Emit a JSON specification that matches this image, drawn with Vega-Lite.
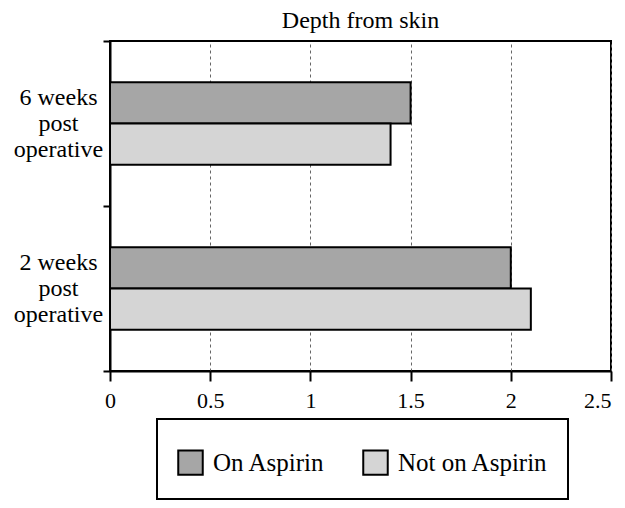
{
  "$schema": "https://vega.github.io/schema/vega-lite/v6.json",
  "autosize": {"type": "none"},
  "width": 501,
  "height": 330,
  "padding": {"left": 110, "top": 41, "right": 14, "bottom": 137},
  "background": "white",
  "title": {
    "text": "Depth from skin",
    "font": "Liberation Serif, Times New Roman, serif",
    "fontSize": 24,
    "fontWeight": "normal",
    "color": "black",
    "anchor": "middle",
    "offset": -4
  },
  "data": {
    "values": [
      {"period": "6 weeks\npost\noperative", "group": "On Aspirin", "depth": 1.5},
      {"period": "6 weeks\npost\noperative", "group": "Not on Aspirin", "depth": 1.4},
      {"period": "2 weeks\npost\noperative", "group": "On Aspirin", "depth": 2.0},
      {"period": "2 weeks\npost\noperative", "group": "Not on Aspirin", "depth": 2.1}
    ]
  },
  "mark": {"type": "bar", "stroke": "black", "strokeWidth": 2},
  "encoding": {
    "y": {
      "field": "period",
      "type": "nominal",
      "sort": ["6 weeks\npost\noperative", "2 weeks\npost\noperative"],
      "scale": {"paddingInner": 0, "paddingOuter": 0},
      "axis": {
        "title": null,
        "labelExpr": "isValid(datum.value) ? split(datum.value, '\\n') : ''",
        "labelFont": "Liberation Serif, Times New Roman, serif",
        "labelFontSize": 24,
        "labelColor": "black",
        "labelAlign": "center",
        "labelBaseline": "middle",
        "labelPadding": 45,
        "labelLineHeight": 26,
        "labelOffset": -26,
        "tickBand": "extent",
        "tickSize": 7,
        "tickWidth": 2,
        "tickColor": "black",
        "domainColor": "black",
        "domainWidth": 2,
        "grid": false
      }
    },
    "yOffset": {
      "field": "group",
      "type": "nominal",
      "sort": ["On Aspirin", "Not on Aspirin"],
      "scale": {"paddingInner": 0, "paddingOuter": 1}
    },
    "x": {
      "field": "depth",
      "type": "quantitative",
      "scale": {"domain": [0, 2.5], "nice": false},
      "axis": {
        "title": null,
        "values": [0, 0.5, 1, 1.5, 2, 2.5],
        "labelExpr": "datum.value",
        "labelFont": "Liberation Serif, Times New Roman, serif",
        "labelFontSize": 22,
        "labelColor": "black",
        "labelAlign": {"expr": "datum.value == 2.5 ? 'right' : 'center'"},
        "labelDx": {"expr": "datum.value == 2.5 ? 3 : 0"},
        "grid": true,
        "gridDash": [3, 3],
        "gridColor": "#666666",
        "gridWidth": 1,
        "tickSize": 10,
        "tickWidth": 2,
        "tickColor": "black",
        "domainColor": "black",
        "domainWidth": 2,
        "labelPadding": 9,
        "labelFlush": false
      }
    },
    "fill": {
      "field": "group",
      "type": "nominal",
      "sort": ["On Aspirin", "Not on Aspirin"],
      "scale": {"domain": ["On Aspirin", "Not on Aspirin"], "range": ["#a6a6a6", "#d5d5d5"]},
      "legend": {
        "title": " ",
        "titleFontSize": 10,
        "titlePadding": 0,
        "orient": "none",
        "legendX": 47,
        "legendY": 378,
        "direction": "horizontal",
        "symbolType": "square",
        "symbolSize": 600,
        "symbolStrokeColor": "black",
        "symbolStrokeWidth": 2,
        "symbolOpacity": 1,
        "labelFont": "Liberation Serif, Times New Roman, serif",
        "labelFontSize": 25,
        "labelColor": "black",
        "labelOffset": 9,
        "columnPadding": 34,
        "padding": 20,
        "strokeColor": "black"
      }
    }
  },
  "config": {
    "view": {"stroke": "black", "strokeWidth": 2},
    "font": "Liberation Serif, Times New Roman, serif",
    "legend": {"strokeWidth": 2}
  }
}
